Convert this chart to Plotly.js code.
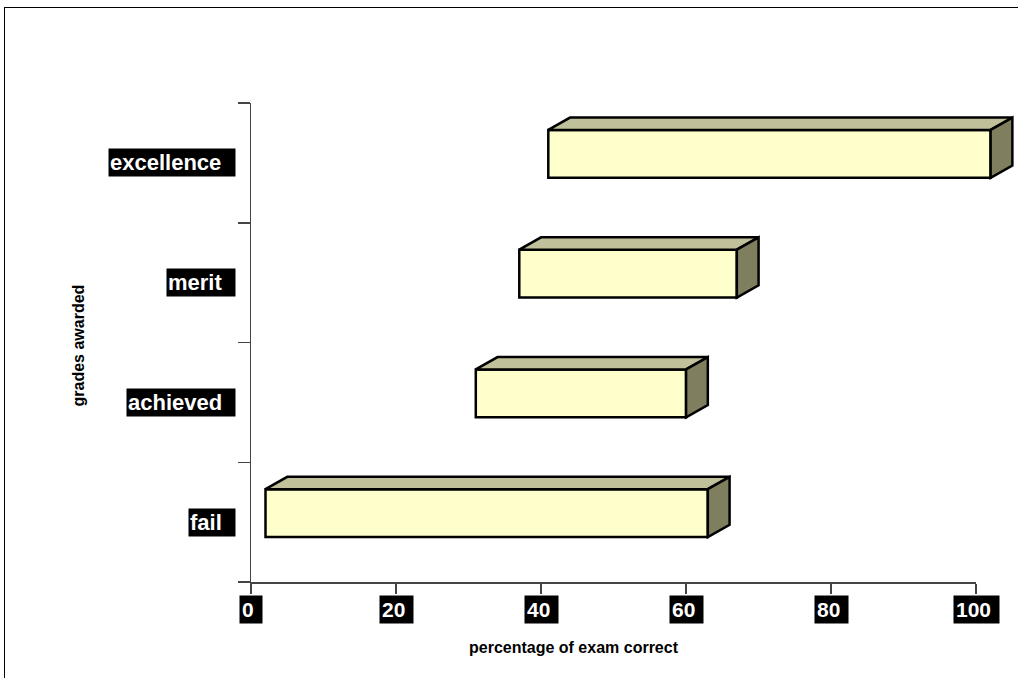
<!DOCTYPE html>
<html>
<head>
<meta charset="utf-8">
<script src="https://cdn.plot.ly/plotly-3.0.1.min.js"></script>
<style>
  html, body { margin: 0; padding: 0; background: #fff; }
  #wrap { position: relative; width: 1018px; height: 678px; overflow: hidden; }
  #chart { position: absolute; left: 0; top: 0; width: 1018px; height: 678px; }
  #frame { position: absolute; left: 4px; top: 7px; width: 1100px; height: 700px;
           border-left: 1px solid #000; border-top: 1px solid #000; pointer-events: none; }
</style>
</head>
<body>
<div id="wrap">
  <div id="chart"></div>
  <div id="frame"></div>
</div>
<script>
// Grade bands: the exam percentage range covered by each grade
const grades = ['fail', 'achieved', 'merit', 'excellence'];
const rangeStart = [2, 31, 37, 41];
const rangeEnd = [63, 60, 67, 102];
const xTicks = [0, 20, 40, 60, 80, 100];

// 3D box look (in axis units)
const DEPTH_X = 3.0;     // horizontal depth offset
const DEPTH_Y = 0.103;   // vertical depth offset
const HALF_H = 0.2;      // half height of the front face
const LIFT = 0.075;      // front face sits slightly above the band centre

const FRONT = '#FFFFCC', TOP = '#C0C09B', SIDE = '#7F7F60', EDGE = '#000000';
const EDGE_W = 2.5;
const FONT = 'Liberation Sans, Arial, sans-serif';

const yIdx = grades.map((g, i) => i);
const traces = [];

// front faces as horizontal bars
traces.push({
  type: 'bar', orientation: 'h',
  y: yIdx.map(i => i + LIFT),
  base: rangeStart,
  x: rangeEnd.map((e, i) => e - rangeStart[i]),
  width: HALF_H * 2,
  marker: { color: FRONT, line: { color: EDGE, width: EDGE_W } },
  hoverinfo: 'skip', showlegend: false
});

// top and side faces
grades.forEach((g, i) => {
  const s = rangeStart[i], e = rangeEnd[i];
  const yb = i + LIFT - HALF_H, yt = i + LIFT + HALF_H;
  traces.push({
    type: 'scatter', mode: 'lines', fill: 'toself', fillcolor: TOP,
    x: [s, s + DEPTH_X, e + DEPTH_X, e, s],
    y: [yt, yt + DEPTH_Y, yt + DEPTH_Y, yt, yt],
    line: { color: EDGE, width: EDGE_W }, hoverinfo: 'skip', showlegend: false
  });
  traces.push({
    type: 'scatter', mode: 'lines', fill: 'toself', fillcolor: SIDE,
    x: [e, e + DEPTH_X, e + DEPTH_X, e, e],
    y: [yt, yt + DEPTH_Y, yb + DEPTH_Y, yb, yt],
    line: { color: EDGE, width: EDGE_W }, hoverinfo: 'skip', showlegend: false
  });
});

// empty trace so the scale axis (0-100) gets its own drawn subplot
traces.push({ type: 'scatter', mode: 'markers', x: [], y: [], xaxis: 'x2', yaxis: 'y',
              hoverinfo: 'skip', showlegend: false });

const NB = '\u00a0';
const annotations = [];

// category labels: white bold text on black
grades.forEach((g, i) => {
  annotations.push({
    xref: 'paper', yref: 'y', x: -0.0196, y: i, xanchor: 'right', yanchor: 'middle',
    text: g + NB + NB, showarrow: false, bgcolor: '#000', borderpad: 1,
    font: { family: FONT, size: 22, color: '#fff', weight: 'bold' }
  });
});

// value tick labels
xTicks.forEach(v => {
  annotations.push({
    xref: 'x2', yref: 'paper', x: v, y: 0, xanchor: 'center', yanchor: 'top', yshift: -13,
    text: String(v) + NB, showarrow: false, bgcolor: '#000', borderpad: 2,
    font: { family: FONT, size: 21, color: '#fff', weight: 'bold' }
  });
});

// axis titles
annotations.push({
  xref: 'paper', yref: 'paper', x: (574 - 251) / 765, y: 0, yanchor: 'middle', yshift: -65,
  text: 'percentage of exam correct', showarrow: false,
  font: { family: FONT, size: 16, color: '#000', weight: 'bold' }
});
annotations.push({
  xref: 'paper', yref: 'paper', x: 0, xanchor: 'center', xshift: -173, y: 0.5, yshift: -3,
  textangle: -90, text: 'grades awarded', showarrow: false,
  font: { family: FONT, size: 16, color: '#000', weight: 'bold' }
});

const layout = {
  width: 1018, height: 678, autosize: false,
  margin: { l: 251, r: 2, t: 103, b: 96, pad: 0 },
  paper_bgcolor: 'rgba(0,0,0,0)', plot_bgcolor: 'rgba(0,0,0,0)',
  showlegend: false, bargap: 0,
  xaxis: { range: [0, 105.5], showline: false, showgrid: false, zeroline: false,
           showticklabels: false, ticks: '', fixedrange: true },
  xaxis2: { domain: [0, 100 / 105.5], range: [0, 100], anchor: 'y',
            showline: true, linecolor: '#444', linewidth: 1.5,
            tickvals: xTicks, ticks: 'outside', ticklen: 10, tickwidth: 1.5, tickcolor: '#444',
            showticklabels: false, showgrid: false, zeroline: false, fixedrange: true },
  yaxis: { range: [-0.5, 3.5], showline: true, linecolor: '#444', linewidth: 1.5,
           tickvals: [-0.5, 0.5, 1.5, 2.5, 3.5], ticks: 'outside', ticklen: 12,
           tickwidth: 1.5, tickcolor: '#444', showticklabels: false,
           showgrid: false, zeroline: false, fixedrange: true },
  annotations: annotations
};

Plotly.newPlot('chart', traces, layout, { staticPlot: true, displayModeBar: false });
</script>
</body>
</html>
